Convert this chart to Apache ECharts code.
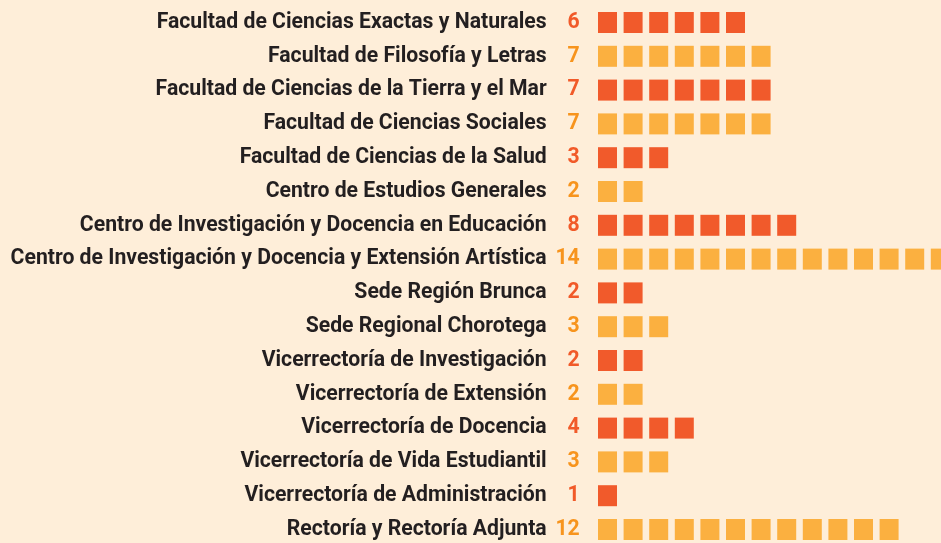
<!DOCTYPE html>
<html>
<head>
<meta charset="utf-8">
<script src="https://cdn.jsdelivr.net/npm/echarts@6/dist/echarts.min.js"></script>
<style>
html,body{margin:0;padding:0;background:#feeed9;}
#c{width:941px;height:543px;}
</style>
</head>
<body>
<div id="c"></div>
<script>
const categories = [
  "Facultad de Ciencias Exactas y Naturales",
  "Facultad de Filosofía y Letras",
  "Facultad de Ciencias de la Tierra y el Mar",
  "Facultad de Ciencias Sociales",
  "Facultad de Ciencias de la Salud",
  "Centro de Estudios Generales",
  "Centro de Investigación y Docencia en Educación",
  "Centro de Investigación y Docencia y Extensión Artística",
  "Sede Región Brunca",
  "Sede Regional Chorotega",
  "Vicerrectoría de Investigación",
  "Vicerrectoría de Extensión",
  "Vicerrectoría de Docencia",
  "Vicerrectoría de Vida Estudiantil",
  "Vicerrectoría de Administración",
  "Rectoría y Rectoría Adjunta"
];
const values = [6, 7, 7, 7, 3, 2, 8, 14, 2, 3, 2, 2, 4, 3, 1, 12];

const squareColors = ["#f15a2b", "#fbb040"];
const numberColors = ["#f15a29", "#f7941d"];

const chart = echarts.init(document.getElementById('c'), null, {renderer: 'canvas'});
const FONT = 'Roboto';
const FS = 21.2;
chart.setOption({
  backgroundColor: '#feeed9',
  animation: false,
  grid: {left: 594.7, right: -63.3, top: 5.6, bottom: -3.4, containLabel: false, outerBoundsMode: 'none'},
  xAxis: {
    type: 'value', min: 0, max: 16, show: false
  },
  yAxis: {
    type: 'category',
    inverse: true,
    data: categories,
    axisLine: {show: false},
    axisTick: {show: false},
    splitLine: {show: false},
    axisLabel: {
      margin: 15,
      formatter: function (val, idx) {
        return '{n|' + val + '}{v' + (idx % 2) + '|' + values[idx] + '}';
      },
      rich: {
        n: {fontFamily: FONT, fontWeight: 'bold', fontSize: FS, color: '#231f20'},
        v0: {fontFamily: FONT, fontWeight: 'bold', fontSize: FS, color: numberColors[0], width: 33, align: 'right'},
        v1: {fontFamily: FONT, fontWeight: 'bold', fontSize: FS, color: numberColors[1], width: 33, align: 'right'}
      }
    }
  },
  series: [{
    type: 'pictorialBar',
    symbol: 'rect',
    symbolRepeat: true,
    symbolSize: [19, 21],
    symbolMargin: '3.3!',
    data: values.map(function (v, i) {
      return {value: v, itemStyle: {color: squareColors[i % 2]}};
    })
  }]
});
</script>
</body>
</html>
